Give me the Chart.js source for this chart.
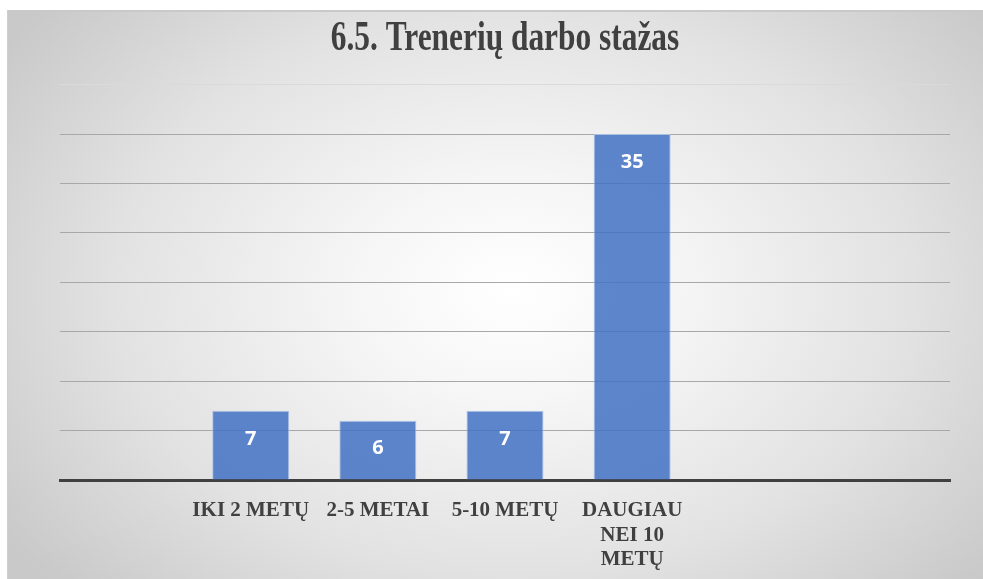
<!DOCTYPE html>
<html>
<head>
<meta charset="utf-8">
<script src="https://cdn.jsdelivr.net/npm/chart.js@4.4.1/dist/chart.umd.min.js"></script>
<style>
  html, body { margin: 0; padding: 0; background: #ffffff; width: 983px; height: 579px; overflow: hidden; }
  #frame {
    position: absolute; left: 7px; top: 10px; width: 990px; height: 580px;
    border-left: 1px solid #cfcfcf; border-top: 2px solid #c9c9c9;
    background: radial-gradient(ellipse 62% 75% at 51% 48%, #ffffff 0%, #f6f6f6 25%, #e2e2e2 65%, #c9c9c9 100%);
  }
  #c { position: absolute; left: 0; top: 0; }
</style>
</head>
<body>
<div id="frame"></div>
<canvas id="c" width="983" height="579"></canvas>
<script>
const TITLE = '6.5. Trenerių darbo stažas';
const categories = ['', 'IKI 2 METŲ', '2-5 METAI', '5-10 METŲ', ['DAUGIAU', 'NEI 10', 'METŲ'], '', ''];
const values = [null, 7, 6, 7, 35, null, null];
const yTicks = [0, 5, 10, 15, 20, 25, 30, 35, 40];

const squeezeTitle = {
  id: 'squeezeTitle',
  afterLayout(chart) {
    const tb = chart.titleBlock;
    if (!tb || tb._squeezed) return;
    const orig = tb.draw.bind(tb);
    tb.draw = function () {
      const ctx = chart.ctx;
      const cx = (tb.left + tb.right) / 2;
      ctx.save();
      ctx.translate(cx, 0);
      ctx.scale(0.73, 1);
      ctx.translate(-cx, 0);
      orig();
      ctx.restore();
    };
    tb._squeezed = true;
  }
};

const valueLabels = {
  id: 'valueLabels',
  afterDatasetsDraw(chart) {
    const ctx = chart.ctx;
    const meta = chart.getDatasetMeta(0);
    ctx.save();
    ctx.font = 'bold 20px "Open Sans"';
    ctx.fillStyle = '#ffffff';
    ctx.textAlign = 'center';
    ctx.textBaseline = 'middle';
    meta.data.forEach((el, i) => {
      const v = values[i];
      if (v === null || v === undefined) return;
      ctx.fillText(String(v), el.x, el.y + 28);
    });
    ctx.restore();
  }
};

new Chart(document.getElementById('c'), {
  type: 'bar',
  data: {
    labels: categories,
    datasets: [{
      data: values,
      backgroundColor: 'rgba(68,114,196,0.86)',
      borderColor: 'rgba(170,192,230,0.9)',
      borderWidth: 1,
      categoryPercentage: 1,
      barPercentage: 0.606
    }]
  },
  options: {
    responsive: false,
    animation: false,
    devicePixelRatio: 1,
    layout: { padding: { left: 60, right: 33, top: 0, bottom: 0 } },
    plugins: {
      legend: { display: false },
      tooltip: { enabled: false },
      title: {
        display: true,
        text: TITLE,
        color: '#404040',
        font: { family: '"Liberation Serif", "Times New Roman", serif', size: 43, weight: 'bold', lineHeight: 1.2 },
        padding: { top: 13, bottom: 20 }
      }
    },
    scales: {
      x: {
        grid: { display: false },
        border: { display: true, color: '#404040', width: 3 },
        ticks: {
          color: '#404040',
          font: { family: '"Liberation Serif", "Times New Roman", serif', size: 21, weight: 'bold', lineHeight: 1.15 },
          padding: 11,
          maxRotation: 0,
          autoSkip: false
        },
        afterFit(s) { s.height = 99; }
      },
      y: {
        min: 0,
        max: 40,
        afterBuildTicks(s) { s.ticks = yTicks.map(v => ({ value: v })); },
        ticks: { display: false },
        border: { display: false },
        grid: {
          drawTicks: false,
          lineWidth: 1,
          color: (c) => c.tick && c.tick.value === 40 ? '#dadada' : (c.tick && c.tick.value === 0 ? 'rgba(0,0,0,0)' : '#a8a8a8')
        },
        afterFit(s) { s.width = 0; }
      }
    }
  },
  plugins: [squeezeTitle, valueLabels]
});
</script>
</body>
</html>
